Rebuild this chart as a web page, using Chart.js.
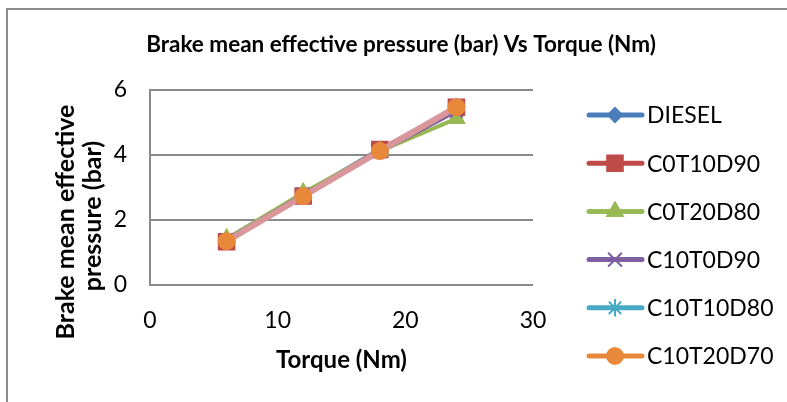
<!DOCTYPE html>
<html>
<head>
<meta charset="utf-8">
<script src="https://cdn.jsdelivr.net/npm/chart.js@4.4.0/dist/chart.umd.min.js"></script>
<style>
    html, body { margin: 0; padding: 0; background: #fff; }
    #wrap { width: 787px; height: 402px; }
</style>
</head>
<body>
<div id="wrap"><canvas id="chart" width="787" height="402"></canvas></div>
<script>
// data
const torque = [6, 12, 18, 24];
const diesel = [1.42, 2.80, 4.18, 5.40];
const c0t10d90 = [1.33, 2.74, 4.17, 5.47];
const c0t20d80 = [1.42, 2.84, 4.12, 5.12];
const c10t0d90 = [1.38, 2.78, 4.10, 5.35];
const c10t10d80 = [1.37, 2.74, 4.10, 5.50];
const c10t20d70 = [1.35, 2.73, 4.12, 5.47];

const seriesNames = ["DIESEL", "C0T10D90", "C0T20D80", "C10T0D90", "C10T10D80", "C10T20D70"];
const seriesValues = [diesel, c0t10d90, c0t20d80, c10t0d90, c10t10d80, c10t20d70];
const xTicks = [0, 10, 20, 30];
const yTicks = [0, 2, 4, 6];

const chartTitle = "Brake mean effective pressure (bar) Vs Torque (Nm)";
const yTitle = ["Brake mean effective", "pressure (bar)"];
const xTitle = "Torque (Nm)";

// styling
const lineColors = ["#4a7ebb", "#be4b48", "#98b954", "#7d60a0", "#46aac5", "#d9979b"];
const markerColors = ["#4a7ebb", "#be4b48", "#98b954", "#7d60a0", "#46aac5", "#e8883a"];
const legendColors = ["#4a7ebb", "#be4b48", "#98b954", "#7d60a0", "#46aac5", "#e8883a"];
const markerStyles = ["rectRot", "rect", "triangle", "crossRot", "star", "circle"];
const markerSizes = [7, 11, 9, 9, 8, 8];
const gridColor = "#8a8a8a";
const FONT = "Lato, 'Open Sans', sans-serif";

function drawMarker(ctx, i, x, y) {
    ctx.save();
    ctx.fillStyle = legendColors[i];
    ctx.strokeStyle = legendColors[i];
    ctx.lineWidth = 2;
    Chart.helpers.drawPoint(ctx, { pointStyle: markerStyles[i], radius: markerSizes[i], borderWidth: 2, rotation: 0 }, x, y);
    ctx.restore();
}

const decor = {
    id: "decor",
    beforeDraw(chart) {
        const ctx = chart.ctx;
        ctx.save();
        ctx.fillStyle = "#fff";
        ctx.fillRect(0, 0, chart.width, chart.height);
        // outer frame, only top and left edges visible
        ctx.strokeStyle = "#8c8c8c";
        ctx.lineWidth = 2;
        ctx.beginPath();
        ctx.moveTo(7, 402);
        ctx.lineTo(7, 9);
        ctx.lineTo(787, 9);
        ctx.stroke();
        ctx.restore();
    },
    afterDraw(chart) {
        const ctx = chart.ctx;
        ctx.save();
        ctx.fillStyle = "#000";

        ctx.font = "bold 22.5px " + FONT;
        ctx.textAlign = "center";
        ctx.textBaseline = "alphabetic";
        ctx.fillText(chartTitle, 401, 52);

        ctx.save();
        ctx.font = "bold 25px " + FONT;
        ctx.textBaseline = "alphabetic";
        ctx.translate(74, 222);
        ctx.rotate(-Math.PI / 2);
        ctx.fillText(yTitle[0], 0, 0);
        ctx.fillText(yTitle[1], 6, 27);
        ctx.restore();

        // legend
        ctx.font = "23px " + FONT;
        ctx.textAlign = "left";
        ctx.textBaseline = "middle";
        seriesNames.forEach((name, i) => {
            const y = 115 + i * 48.2;
            ctx.strokeStyle = legendColors[i];
            ctx.lineWidth = 5;
            ctx.lineCap = "round";
            ctx.beginPath();
            ctx.moveTo(589, y);
            ctx.lineTo(642, y);
            ctx.stroke();
            drawMarker(ctx, i, 615, y);
            ctx.fillStyle = "#000";
            ctx.fillText(name, 647, y + 1);
        });
        ctx.restore();
    }
};

const datasets = seriesNames.map((name, i) => ({
    label: name,
    data: torque.map((t, j) => ({ x: t, y: seriesValues[i][j] })),
    borderColor: lineColors[i],
    borderWidth: i === 5 ? 6 : 4,
    pointStyle: markerStyles[i],
    pointRadius: markerSizes[i],
    pointHoverRadius: markerSizes[i],
    pointBackgroundColor: markerColors[i],
    pointBorderColor: markerColors[i],
    pointBorderWidth: 2,
    tension: 0,
    order: 5 - i
}));

new Chart(document.getElementById("chart"), {
    type: "line",
    data: { datasets },
    options: {
        responsive: false,
        animation: false,
        layout: { padding: { left: 0, top: 90, right: 254, bottom: 0 } },
        plugins: { legend: { display: false }, tooltip: { enabled: false }, title: { display: false } },
        scales: {
            x: {
                type: "linear",
                min: 0,
                max: 30,
                afterFit: s => { s.height = 117; },
                afterBuildTicks: s => { s.ticks = xTicks.map(v => ({ value: v })); },
                grid: { display: false, drawTicks: false },
                border: { display: false },
                ticks: { color: "#000", font: { family: FONT, size: 23 }, padding: 22 },
                title: { display: true, text: xTitle, color: "#000", font: { family: FONT, size: 24, weight: "bold" }, padding: { top: 0, bottom: 27 } }
            },
            y: {
                min: 0,
                max: 6,
                afterFit: s => { s.width = 150; },
                afterBuildTicks: s => { s.ticks = yTicks.map(v => ({ value: v })); },
                grid: { color: gridColor, lineWidth: 2, drawTicks: false },
                border: { display: true, color: gridColor, width: 2 },
                ticks: { color: "#000", font: { family: FONT, size: 23 }, padding: 23 }
            }
        }
    },
    plugins: [decor]
});
</script>
</body>
</html>
